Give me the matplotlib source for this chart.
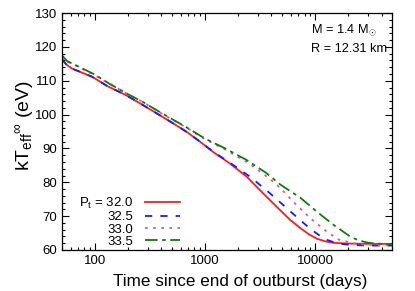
import matplotlib
matplotlib.use("Agg")
import matplotlib.pyplot as plt
from matplotlib.ticker import MultipleLocator, LogLocator, NullFormatter, FixedLocator, FuncFormatter

plt.rcParams['font.family'] = ['Liberation Sans', 'DejaVu Sans']
plt.rcParams['mathtext.fontset'] = 'custom'
plt.rcParams['mathtext.rm'] = 'Liberation Sans'
plt.rcParams['mathtext.it'] = 'Liberation Sans'

# curves: time (days) vs kT_eff^inf (eV)
t_320 = [50, 55, 62, 75, 94, 130, 190, 280, 384, 520, 673, 900, 1178, 1675,
         2377, 3373, 4786, 5916, 7300, 8800, 10400, 12500, 14700, 20000, 30000, 50000]
kt_320 = [116.4, 114.8, 113.6, 112.5, 111.2, 108.4, 105.8, 102.6, 99.9, 97.3,
          95.0, 92.0, 89.0, 85.6, 81.7, 76.7, 71.8, 68.9, 66.5, 64.6, 63.3,
          62.5, 62.1, 61.9, 61.8, 61.8]

t_325 = [50, 55, 62, 75, 94, 130, 190, 280, 384, 520, 673, 900, 1178, 1675,
         2547, 3620, 4470, 5320, 6340, 7500, 9000, 10800, 12760, 16000, 20900,
         30000, 50000]
kt_325 = [116.4, 114.8, 113.6, 112.5, 111.2, 108.4, 105.8, 102.6, 99.9, 97.3,
          95.0, 92.0, 89.1, 85.8, 81.7, 77.6, 75.0, 72.8, 70.6, 68.5, 66.3,
          64.4, 63.0, 61.9, 61.5, 61.3, 61.3]

t_330 = [50, 56, 67, 100, 134, 200, 270, 400, 673, 1000, 1500, 2500, 3880,
         5000, 6340, 9000, 12760, 16500, 23900, 35000, 50000]
kt_330 = [117.3, 115.6, 114.5, 111.6, 109.2, 106.0, 103.8, 100.4, 96.2, 92.7,
          89.8, 85.6, 81.0, 77.8, 74.2, 69.4, 65.4, 63.0, 61.8, 61.4, 61.4]

t_335 = [50, 56, 67, 100, 134, 200, 270, 400, 673, 1000, 1500, 2377, 3614, 4786,
         5916, 7290, 10360, 14700, 20900, 25000, 29600, 35000, 50000]
kt_335 = [117.5, 115.8, 114.6, 111.8, 109.2, 106.0, 103.8, 100.5, 96.3, 92.9,
          90.1, 86.6, 82.7, 79.4, 77.4, 75.5, 71.3, 67.4, 63.9, 62.8, 62.2, 61.9, 61.7]

labels = ['$P_t$ = 32.0', '32.5', '33.0', '33.5']

fig = plt.figure(figsize=(4.15, 2.91), dpi=100)
ax = fig.add_axes([0.149, 0.141, 0.796, 0.814])

ax.plot(t_320, kt_320, color='#ff1a1a', lw=1.3, label=labels[0])
ax.plot(t_325, kt_325, color='#1a1aff', lw=1.3, ls=(0, (4, 4.5)), label=labels[1])
ax.plot(t_330, kt_330, color='#d9607e', lw=1.3, ls=(0, (1.5, 3)), label=labels[2])
ax.plot(t_335, kt_335, color='#0f7a0f', lw=1.3, ls=(0, (7, 2.5, 2, 2.5)), label=labels[3])

ax.set_xscale('log')
ax.set_xlim(50, 50000)
ax.set_ylim(60, 130)
ax.xaxis.set_major_locator(FixedLocator([100, 1000, 10000]))
ax.xaxis.set_major_formatter(FuncFormatter(lambda v, p: '%d' % v))
ax.xaxis.set_minor_locator(LogLocator(base=10, subs=range(2, 10)))
ax.xaxis.set_minor_formatter(NullFormatter())
ax.yaxis.set_major_locator(MultipleLocator(10))
ax.yaxis.set_minor_locator(MultipleLocator(2))
ax.tick_params(which='both', direction='in', top=True, right=True, labelsize=9.5, width=0.8)
ax.tick_params(which='major', length=5)
ax.tick_params(which='minor', length=2.5)
for s in ax.spines.values():
    s.set_linewidth(0.9)

ax.set_xlabel('Time since end of outburst (days)', fontsize=12.3)
ax.xaxis.set_label_coords(0.539, -0.1)
ax.set_ylabel(r'kT$_{\rm eff}$$^{\infty}$ (eV)', fontsize=14)
ax.yaxis.set_label_coords(-0.08, 0.525)

ax.text(0.755, 0.915, r'M = 1.4 M$_{\odot}$', transform=ax.transAxes, fontsize=9.2)
ax.text(0.755, 0.835, 'R = 12.31 km', transform=ax.transAxes, fontsize=9.2)

ax.legend(loc='lower left', bbox_to_anchor=(0.025, -0.03), markerfirst=False,
          frameon=False, fontsize=9.5, handlelength=2.6, handletextpad=0.9,
          labelspacing=0.0, borderaxespad=0.3)

fig.savefig('out.png', dpi=100)
